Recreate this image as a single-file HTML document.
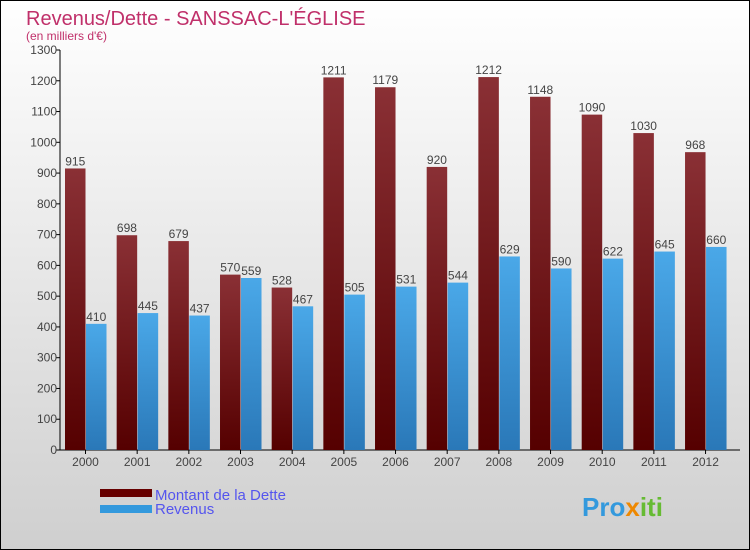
<!DOCTYPE html>
<html><head><meta charset="utf-8"><style>
html,body{margin:0;padding:0;}
svg{display:block;font-family:"Liberation Sans",sans-serif;}
</style></head><body>
<svg id="c" width="750" height="550" xmlns="http://www.w3.org/2000/svg">
<defs>
<linearGradient id="bg" x1="0" y1="0" x2="0" y2="1"><stop offset="0" stop-color="#ffffff"/><stop offset="1" stop-color="#cfcfcf"/></linearGradient>
<linearGradient id="gd" x1="0" y1="0" x2="0" y2="1"><stop offset="0" stop-color="#8a3035"/><stop offset="1" stop-color="#550000"/></linearGradient>
<linearGradient id="gr" x1="0" y1="0" x2="0" y2="1"><stop offset="0" stop-color="#4aa8e8"/><stop offset="1" stop-color="#2a78b8"/></linearGradient>
</defs>
<rect x="0.5" y="0.5" width="749" height="549" fill="url(#bg)" stroke="#000"/>
<text x="26" y="25" font-size="20" fill="#c0306a">Revenus/Dette - SANSSAC-L'ÉGLISE</text>
<text x="26" y="40" font-size="12" fill="#c0306a">(en milliers d'€)</text>
<g id="plot"></g>
<rect x="100" y="489" width="52" height="8" fill="#660000"/>
<rect x="100" y="505" width="52" height="8" fill="#3399dd"/>
<text x="155" y="500" font-size="15" fill="#5555ee">Montant de la Dette</text>
<text x="155" y="514" font-size="15" fill="#5555ee">Revenus</text>
<text x="582" y="516" font-size="26" font-weight="bold" fill="#3399dd">Pro<tspan fill="#ee8800">x</tspan><tspan fill="#66bb33">iti</tspan></text>
</svg>
<script>
const years=["2000","2001","2002","2003","2004","2005","2006","2007","2008","2009","2010","2011","2012"];
const dette=[915,698,679,570,528,1211,1179,920,1212,1148,1090,1030,968];
const revenus=[410,445,437,559,467,505,531,544,629,590,622,645,660];
const ticks=[0,100,200,300,400,500,600,700,800,900,1000,1100,1200,1300];
const NS="http://www.w3.org/2000/svg";
const g=document.getElementById('plot');
const x0=60,yBase=450,yTop=50,yMax=1300,step=51.67,bw=20.5;
function y(v){return yBase-(v/yMax)*(yBase-yTop);}
function gx(i){return x0+5+i*step;}
function mk(t,a){const e=document.createElementNS(NS,t);for(const k in a)e.setAttribute(k,a[k]);g.appendChild(e);return e;}
let ax=mk('line',{x1:x0,y1:yTop,x2:x0,y2:yBase,stroke:'#000'});


let bx=mk('line',{x1:x0,y1:yBase,x2:740,y2:yBase,stroke:'#000'});


ticks.forEach(t=>{
 const l=mk('line',{x1:x0-4,y1:y(t),x2:x0,y2:y(t),stroke:'#000'});
 
 
 const tx=mk('text',{x:x0-3,y:y(t)+4,'font-size':12,'text-anchor':'end',fill:'#444'});
 tx.textContent=t;
 
 
});
years.forEach((yr,i)=>{
 const bx0=gx(i);
 const b1=mk('rect',{x:bx0,y:y(dette[i]),width:bw,height:yBase-y(dette[i]),fill:'url(#gd)'});
 
 
 const b2=mk('rect',{x:bx0+bw+0.5,y:y(revenus[i]),width:bw,height:yBase-y(revenus[i]),fill:'url(#gr)'});
 
 
 const t1=mk('text',{x:bx0+bw/2,y:y(dette[i])-3,'font-size':12,'text-anchor':'middle',fill:'#444'});
 t1.textContent=dette[i];
 
 
 const t2=mk('text',{x:bx0+bw*1.5+0.5,y:y(revenus[i])-3,'font-size':12,'text-anchor':'middle',fill:'#444'});
 t2.textContent=revenus[i];
 
 
 const tk=mk('line',{x1:bx0+bw,y1:yBase,x2:bx0+bw,y2:yBase+4,stroke:'#000'});
 
 
 const xl=mk('text',{x:bx0+bw,y:yBase+16,'font-size':12,'text-anchor':'middle',fill:'#444'});
 xl.textContent=yr;
 
 
});
</script>
</body></html>
